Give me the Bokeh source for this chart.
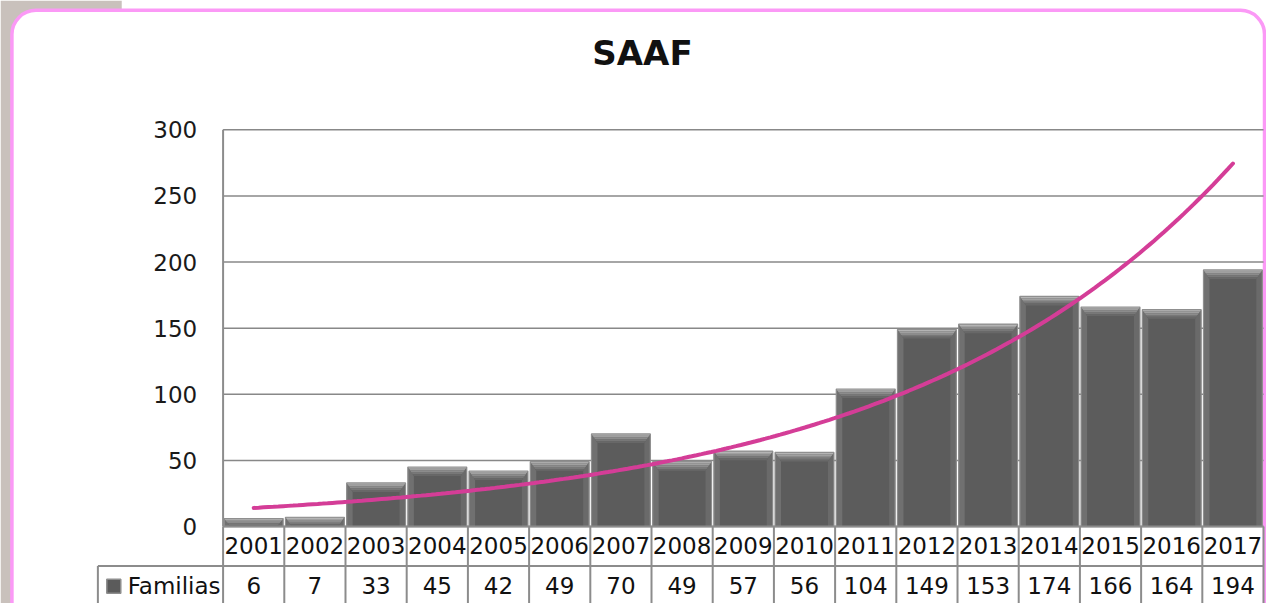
import numpy as np
from bokeh.plotting import figure
from bokeh.models import Range1d
from bokeh.core.properties import value
from bokeh.embed import file_html
from bokeh.resources import INLINE

# ---- data ----
years = ["2001", "2002", "2003", "2004", "2005", "2006", "2007", "2008", "2009",
         "2010", "2011", "2012", "2013", "2014", "2015", "2016", "2017"]
familias = [6, 7, 33, 45, 42, 49, 70, 49, 57, 56, 104, 149, 153, 174, 166, 164, 194]
y_ticks = [0, 50, 100, 150, 200, 250, 300]
series_name = "Familias"
title_text = "SAAF"

# ---- geometry (pixel calibration, reference pixels scaled to figure) ----
W, H = 1266, 603
SX, SY = W / 1274.0, H / 611.0
PX_X = (1271 - 224) / 17.0 * SX   # px per category
PX_Y = (533 - 131) / 300.0 * SY   # px per unit
x0 = 0.5 - 224 * SX / PX_X
x1 = x0 + W / PX_X
y1 = 533 * SY / PX_Y
y0 = -(H - 533 * SY) / PX_Y

def dx(px):  # reference x -> data x
    return x0 + px * SX / PX_X

def dy(py):  # reference y -> data y
    return (533 - py) * SY / PX_Y

FONT = "DejaVu Sans"

p = figure(width=W, height=H, output_backend="svg", toolbar_location=None,
           x_range=Range1d(x0, x1), y_range=Range1d(y0, y1),
           x_axis_location=None, y_axis_location=None, min_border=0,
           background_fill_color="#FFFFFF", border_fill_color="#FFFFFF")
p.outline_line_color = None
p.grid.visible = False

# page background bits (grey corner) and rounded pink frame
p.quad(left=[x0], right=[dx(122)], top=[y1], bottom=[y0], fill_color="#C9C1BC", line_color=None)
p.quad(left=[dx(11.5)], right=[dx(1272)], top=[dy(10)], bottom=[dy(640)],
       fill_color="#FFFFFF", line_color="#FB99F6", line_width=3.5, border_radius=24)

n = len(years)
xs = np.arange(1, n + 1)
vals = np.array(familias, dtype=float)

# gridlines
grid_c = "#888888"
p.segment(x0=[0.5] * len(y_ticks), x1=[n + 0.5] * len(y_ticks), y0=y_ticks, y1=y_ticks,
          line_color=grid_c, line_width=1.5)
# y tick labels
p.text(x=[dx(198)] * len(y_ticks), y=y_ticks, text=[str(t) for t in y_ticks],
       text_align="right", text_baseline="middle", text_font=value(FONT),
       text_font_size="23px", text_color="#1a1a1a")

# bars (base face)
bw = 0.962
p.vbar(x=xs, top=vals, bottom=0, width=bw, fill_color="#5C5C5C", line_color=None)

# bevel: side facets
side = 6 / PX_X
L = xs - bw / 2
R = xs + bw / 2
bev_h = np.minimum(9 / PX_Y, vals)
left_xs = [[l, l + side, l + side, l] for l in L]
left_ys = [[v, v - h, 0, 0] for v, h in zip(vals, bev_h)]
right_xs = [[r, r - side, r - side, r] for r in R]
p.patches(left_xs, left_ys, fill_color="#707070", line_color=None)
p.patches(right_xs, left_ys, fill_color="#6A6A6A", line_color=None)

# bevel: top facet as graded trapezoid bands
band_cols = ["#B4B4B4", "#A0A0A0", "#8C8C8C", "#787878", "#686868"]
nb = len(band_cols)
for k, col in enumerate(band_cols):
    f0, f1 = k / nb, (k + 1) / nb
    bxs, bys = [], []
    for l, r, v, h in zip(L, R, vals, bev_h):
        bxs.append([l + side * f0, r - side * f0, r - side * f1, l + side * f1])
        bys.append([v - h * f0, v - h * f0, v - h * f1, v - h * f1])
    p.patches(bxs, bys, fill_color=col, line_color=None)

# bar outline
p.quad(left=L, right=R, top=vals, bottom=0, fill_color=None, line_color="#8F8F8F", line_width=1.2)

# exponential trendline (least squares on log values)
b, a = np.polyfit(xs, np.log(vals), 1)
tx = np.linspace(1, n, 200)
p.line(tx, np.exp(a + b * tx), line_color="#D43D97", line_width=4, line_cap="round")

# data table
tc = "#8C8C8C"
row_mid = dy(573)
leg_left = dx(98)
bounds = np.arange(0.5, n + 1.0, 1.0)
p.segment(x0=bounds, x1=bounds, y0=[y0] * len(bounds), y1=[0] * len(bounds), line_color=tc, line_width=2)
p.segment(x0=[0.5], x1=[0.5], y0=[0], y1=[300], line_color=tc, line_width=2)
p.segment(x0=[leg_left, 0.5], x1=[n + 0.5, n + 0.5], y0=[row_mid, 0], y1=[row_mid, 0],
          line_color=tc, line_width=2)
p.segment(x0=[leg_left], x1=[leg_left], y0=[y0], y1=[row_mid], line_color=tc, line_width=2)

p.text(x=xs, y=[dy(552)] * n, text=years, text_align="center", text_baseline="middle",
       text_font=value(FONT), text_font_size="23px", text_color="#111111")
p.text(x=xs, y=[dy(593)] * n, text=[str(v) for v in familias], text_align="center",
       text_baseline="middle", text_font=value(FONT), text_font_size="23px", text_color="#111111")

# legend key + name
p.rect(x=[dx(114)], y=[dy(593.5)], width=14, height=14, width_units="screen", height_units="screen",
       fill_color="#5B5B5B", line_color="#8E8E8E", line_width=1.5)
p.text(x=[dx(128)], y=[dy(593)], text=[series_name], text_align="left", text_baseline="middle",
       text_font=value(FONT), text_font_size="23px", text_color="#111111")

# title
p.text(x=[dx(646)], y=[dy(53)], text=[title_text], text_align="center", text_baseline="middle",
       text_font=value(FONT), text_font_size="34px", text_font_style="bold", text_color="#111111")

open("out.html", "w").write(file_html(p, INLINE))
